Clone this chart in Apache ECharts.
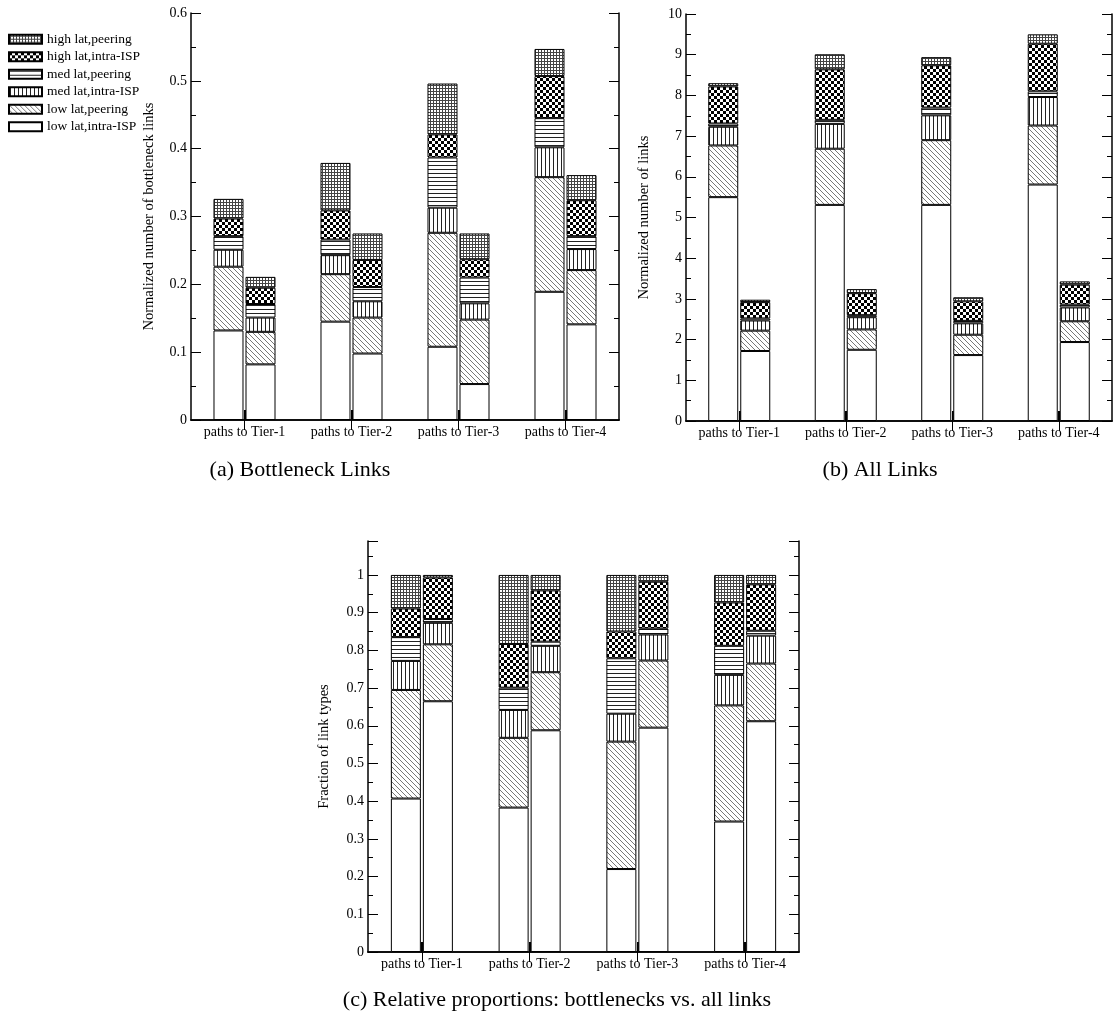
<!DOCTYPE html>
<html><head><meta charset="utf-8">
<script src="https://cdn.jsdelivr.net/npm/echarts@6/dist/echarts.min.js"></script>
<style>html,body{margin:0;padding:0;background:#fff}#c{width:1114px;height:1021px}</style>
</head><body><div id="c"></div>
<script>
// ---------- data ----------
const categories = ['paths to Tier-1', 'paths to Tier-2', 'paths to Tier-3', 'paths to Tier-4'];
const layerNames = ['low lat,intra-ISP', 'low lat,peering', 'med lat,intra-ISP', 'med lat,peering', 'high lat,intra-ISP', 'high lat,peering'];
const legendOrder = ['high lat,peering', 'high lat,intra-ISP', 'med lat,peering', 'med lat,intra-ISP', 'low lat,peering', 'low lat,intra-ISP'];

// (a) Bottleneck links: segment heights per layer (rows: layers in layerNames order, cols: Tier-1..4)
const bottleneckLeft = [
  [0.132, 0.145, 0.108, 0.189],
  [0.094, 0.070, 0.168, 0.169],
  [0.025, 0.028, 0.037, 0.044],
  [0.020, 0.023, 0.074, 0.043],
  [0.026, 0.043, 0.034, 0.062],
  [0.029, 0.070, 0.075, 0.040]
];
const bottleneckRight = [
  [0.082, 0.098, 0.053, 0.141],
  [0.048, 0.053, 0.095, 0.080],
  [0.021, 0.024, 0.024, 0.031],
  [0.020, 0.021, 0.038, 0.019],
  [0.024, 0.040, 0.027, 0.053],
  [0.016, 0.039, 0.038, 0.037]
];
// (b) All links
const allLeft = [
  [5.50, 5.31, 5.31, 5.81],
  [1.27, 1.38, 1.59, 1.45],
  [0.46, 0.61, 0.61, 0.70],
  [0.08, 0.10, 0.19, 0.14],
  [0.91, 1.24, 1.04, 1.17],
  [0.08, 0.37, 0.20, 0.23]
];
const allRight = [
  [1.72, 1.75, 1.62, 1.94],
  [0.50, 0.50, 0.50, 0.51],
  [0.25, 0.30, 0.28, 0.34],
  [0.05, 0.05, 0.06, 0.07],
  [0.40, 0.54, 0.48, 0.49],
  [0.06, 0.10, 0.10, 0.08]
];
// (c) Relative proportions
const fractionBottleneck = [
  [0.407, 0.383, 0.220, 0.346],
  [0.288, 0.185, 0.338, 0.308],
  [0.077, 0.074, 0.074, 0.081],
  [0.063, 0.059, 0.147, 0.077],
  [0.076, 0.116, 0.071, 0.115],
  [0.089, 0.183, 0.150, 0.073]
];
const fractionAll = [
  [0.665, 0.588, 0.595, 0.612],
  [0.151, 0.154, 0.178, 0.153],
  [0.057, 0.070, 0.069, 0.074],
  [0.010, 0.011, 0.016, 0.013],
  [0.110, 0.136, 0.124, 0.123],
  [0.007, 0.041, 0.018, 0.025]
];
const panelTitles = ['(a) Bottleneck Links', '(b) All Links', '(c) Relative proportions: bottlenecks vs. all links'];
const yAxisNames = ['Normalized number of bottleneck links', 'Normalized number of links', 'Fraction of link types'];

// ---------- patterns ----------
function tile(w, h, draw) {
  const c = document.createElement('canvas');
  c.width = w; c.height = h;
  const g = c.getContext('2d');
  g.fillStyle = '#fff'; g.fillRect(0, 0, w, h);
  draw(g, w, h);
  return { image: c, repeat: 'repeat' };
}
const fills = [
  '#ffffff',
  tile(5, 5, (g, w, h) => { g.strokeStyle = '#555'; g.lineWidth = 0.8; g.beginPath();
    g.moveTo(-1, -1); g.lineTo(w + 1, h + 1); g.moveTo(w - 1, -1); g.lineTo(w + 1, 1); g.moveTo(-1, h - 1); g.lineTo(1, h + 1); g.stroke(); }),
  tile(4, 4, (g, w, h) => { g.fillStyle = '#222'; g.fillRect(1, 0, 1, h); }),
  tile(4, 4, (g, w, h) => { g.fillStyle = '#222'; g.fillRect(0, 1, w, 1); }),
  tile(6, 6, (g, w, h) => { g.fillStyle = '#000'; g.fillRect(0, 0, 3, 3); g.fillRect(3, 3, 3, 3); }),
  tile(3, 3, (g, w, h) => { g.fillStyle = '#444'; g.fillRect(1, 0, 1, h); g.fillRect(0, 1, w, 1); })
];

// ---------- layout ----------
const FONT = 'Liberation Serif';
const grids = [
  { left: 191, top: 13, width: 428, height: 407 },
  { left: 686, top: 14, width: 426, height: 407 },
  { left: 368, top: 541, width: 431, height: 411 }
];
const yRanges = [
  { max: 0.6, interval: 0.1 },
  { max: 10, interval: 1 },
  { max: 1.09, interval: 0.1 }
];
const nameGaps = [34, 34, 36];

const xAxis = [], yAxis = [];
grids.forEach((gr, i) => {
  xAxis.push({
    gridIndex: i, type: 'category', data: categories, position: 'bottom',
    axisLine: { show: true, lineStyle: { color: '#000', width: 1.5 } },
    axisTick: { show: true, inside: true, alignWithLabel: true, length: 10, lineStyle: { color: '#000', width: 2 } },
    axisLabel: { color: '#000', fontFamily: FONT, fontSize: 14, margin: 5 },
    splitLine: { show: false }
  });
  xAxis.push({
    gridIndex: i, type: 'category', data: categories, position: 'top',
    axisLine: { show: true, lineStyle: { color: '#000', width: 1.5 } },
    axisTick: { show: true, inside: true, alignWithLabel: true, length: 10, lineStyle: { color: '#000', width: 1 } },
    axisLabel: { show: false }, splitLine: { show: false }
  });
  const base = {
    gridIndex: i, type: 'value', min: 0, max: yRanges[i].max, interval: yRanges[i].interval,
    axisLine: { show: true, lineStyle: { color: '#000', width: 1.5 } },
    axisTick: { show: true, inside: true, length: 10, lineStyle: { color: '#000', width: 1 } },
    minorTick: { show: true, splitNumber: 2, length: 5, lineStyle: { color: '#000', width: 1 } },
    splitLine: { show: false }, minorSplitLine: { show: false }
  };
  yAxis.push(Object.assign({}, base, {
    position: 'left',
    axisLabel: { color: '#000', fontFamily: FONT, fontSize: 14, margin: 4, showMaxLabel: i !== 2 },
    name: yAxisNames[i], nameLocation: 'middle', nameGap: nameGaps[i],
    nameTextStyle: { color: '#000', fontFamily: FONT, fontSize: 14.5 }
  }));
  yAxis.push(Object.assign({}, base, { position: 'right', axisLabel: { show: false } }));
});

const groups = [
  [bottleneckLeft, bottleneckRight],
  [allLeft, allRight],
  [fractionBottleneck, fractionAll]
];
const series = [];
groups.forEach((pair, gi) => {
  pair.forEach((layers, bi) => {
    layers.forEach((vals, li) => {
      series.push({
        type: 'bar', name: layerNames[li],
        xAxisIndex: gi * 2, yAxisIndex: gi * 2,
        stack: 'g' + gi + 'b' + bi,
        barWidth: 30, barGap: '6.7%',
        data: vals,
        itemStyle: { color: fills[li], borderColor: '#000', borderWidth: 1 },
        emphasis: { disabled: true }
      });
    });
  });
});

const chart = echarts.init(document.getElementById('c'), null, { renderer: 'canvas' });
chart.setOption({
  animation: false,
  backgroundColor: '#fff',
  grid: grids.map(g => Object.assign({ containLabel: false }, g)),
  xAxis, yAxis, series,
  legend: {
    orient: 'vertical', left: 3, top: 27, icon: 'rect', itemWidth: 33, itemHeight: 9, itemGap: 3,
    data: legendOrder, selectedMode: false,
    textStyle: { color: '#000', fontFamily: FONT, fontSize: 13.5, lineHeight: 14.5 }
  },
  graphic: [
    { type: 'text', x: 300, y: 470, style: { text: panelTitles[0], align: 'center', verticalAlign: 'middle', font: '22px "Liberation Serif"', fill: '#000' } },
    { type: 'text', x: 880, y: 470, style: { text: panelTitles[1], align: 'center', verticalAlign: 'middle', font: '22px "Liberation Serif"', fill: '#000' } },
    { type: 'text', x: 557, y: 1000, style: { text: panelTitles[2], align: 'center', verticalAlign: 'middle', font: '22px "Liberation Serif"', fill: '#000' } }
  ]
});
</script></body></html>
